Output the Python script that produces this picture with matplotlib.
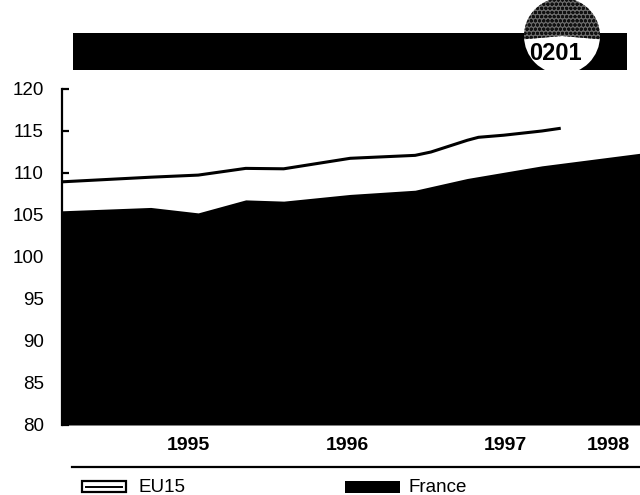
import matplotlib
matplotlib.use("Agg")
import matplotlib.pyplot as plt
from matplotlib.patches import Rectangle, Circle, Wedge

plt.rcParams['font.family'] = ['Liberation Sans', 'DejaVu Sans']

# EU15 index (line)
eu_t = [1994.20, 1994.76, 1995.06, 1995.36, 1995.60, 1996.02, 1996.43,
        1996.53, 1996.76, 1996.83, 1996.99, 1997.23, 1997.34]
eu_v = [108.95, 109.5, 109.75, 110.55, 110.5, 111.75, 112.1,
        112.5, 113.9, 114.25, 114.5, 115.0, 115.3]

# France index (filled area)
fr_t = [1994.20, 1994.76, 1995.06, 1995.36, 1995.60, 1996.02, 1996.43,
        1996.76, 1997.23, 1997.85]
fr_v = [105.5, 105.9, 105.25, 106.8, 106.65, 107.45, 107.95,
        109.35, 110.85, 112.35]

year_pos = [1995, 1996, 1997, 1997.65]
year_labels = ["1995", "1996", "1997", "1998"]
y_ticks = [80, 85, 90, 95, 100, 105, 110, 115, 120]

fig = plt.figure(figsize=(6.4, 4.95), dpi=100)
W, H = 640, 495

# main chart area
ax = fig.add_axes([62 / W, 1 - 425 / H, 1 - 62 / W, (425 - 89) / H])
ax.fill_between(fr_t, fr_v, 80, color="black", lw=0, zorder=1)
ax.plot(eu_t, eu_v, color="black", lw=2.2, zorder=3)
ax.set_xlim(1994.20, 1997.85)
ax.set_ylim(80, 120)
for s in ["top", "right", "bottom"]:
    ax.spines[s].set_visible(False)
ax.spines["left"].set_linewidth(1.6)
ax.set_yticks(y_ticks)
ax.tick_params(axis="y", direction="in", length=5, width=1.6, pad=13,
               labelsize=13.5)
ax.set_xticks(year_pos)
ax.set_xticklabels(year_labels, fontweight="bold", fontsize=14)
ax.tick_params(axis="x", length=0, pad=9)

# decorations in pixel coordinates
deco = fig.add_axes([0, 0, 1, 1], zorder=5)
deco.set_xlim(0, W)
deco.set_ylim(H, 0)
deco.axis("off")
deco.patch.set_alpha(0)

deco.add_patch(Rectangle((73, 33), 627 - 73, 37, color="black", lw=0))
deco.add_patch(Circle((562, 36), 38, facecolor="white", edgecolor="none"))
deco.add_patch(Wedge((562, 36), 38, 175, 365, facecolor="#6a6a6a",
                     edgecolor="#111111", lw=0, hatch="oooo"))
deco.text(555, 53, "0201", fontsize=17, fontweight="bold", ha="center",
          va="center", color="black")

deco.plot([72, 640], [467, 467], color="black", lw=1.6)

# legend
deco.add_patch(Rectangle((82, 481), 44, 11, facecolor="white",
                         edgecolor="black", lw=1.6))
deco.plot([86, 122], [486.5, 486.5], color="black", lw=1.4)
deco.text(138, 487, "EU15", fontsize=13.5, va="center")
deco.add_patch(Rectangle((345, 481), 55, 12, color="black", lw=0))
deco.text(408, 487, "France", fontsize=13.5, va="center")

fig.savefig("out.png", dpi=100)
